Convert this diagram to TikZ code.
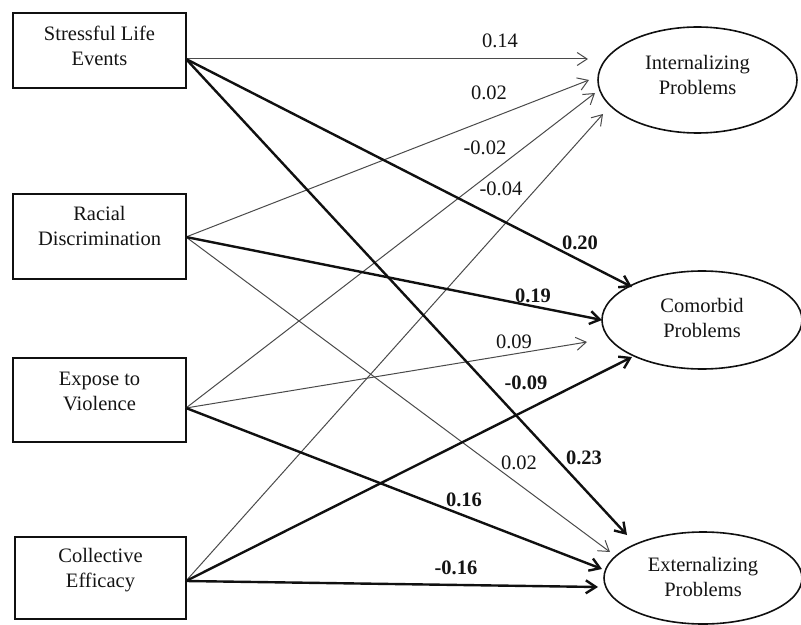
\documentclass[tikz,border=0pt]{standalone}
\usepackage{fontspec}
\setmainfont{Liberation Serif}
\usetikzlibrary{arrows.meta,shapes.geometric}
\definecolor{thinc}{HTML}{4A4A4A}
\definecolor{thickc}{HTML}{101010}
\definecolor{txt}{HTML}{141414}
\begin{document}
\begin{tikzpicture}[x=1bp,y=-1bp,
  box/.style={draw=thickc,line width=1.7bp,rectangle,inner sep=0pt},
  oval/.style={draw=thickc,line width=1.6bp,ellipse,inner sep=0pt},
  lbl/.style={text=txt,align=center,font=\fontsize{20.5bp}{25bp}\selectfont,inner sep=0pt},
  coef/.style={text=txt,font=\fontsize{20.5bp}{25bp}\selectfont,inner sep=0pt},
  bcoef/.style={coef,font=\fontsize{20.5bp}{25bp}\selectfont\bfseries},
  thinarr/.style={draw=thinc,line width=1bp,-{Straight Barb[length=10bp,width=13bp,line width=1bp]}},
  thickarr/.style={draw=thickc,line width=2.4bp,-{Straight Barb[length=10bp,width=13bp,line width=2.4bp]}}
]
\useasboundingbox (0,0) rectangle (801,625);
% boxes
\node[box,minimum width=173bp,minimum height=75bp] (sle) at (99.5,50.5) {};
\node[box,minimum width=173bp,minimum height=85bp] (rd) at (99.5,236.5) {};
\node[box,minimum width=173bp,minimum height=84bp] (ev) at (99.5,400) {};
\node[box,minimum width=171bp,minimum height=82bp] (ce) at (100.5,578) {};
\node[lbl] (slet) at (99.5,46) {Stressful Life\\Events};
\node[lbl] (rdt) at (99.5,226) {Racial\\Discrimination};
\node[lbl] (evt) at (99.5,391) {Expose to\\Violence};
\node[lbl] (cet) at (100.5,570) {Collective\\Efficacy};
% ellipses
\node[oval,minimum width=199bp,minimum height=106bp] (int) at (697.5,80) {};
\node[oval,minimum width=200bp,minimum height=98bp] (com) at (702,320) {};
\node[oval,minimum width=198bp,minimum height=92bp] (ext) at (703,578) {};
\node[lbl] (intt) at (697.5,75) {Internalizing\\Problems};
\node[lbl] (comt) at (702,318) {Comorbid\\Problems};
\node[lbl] (extt) at (703,577) {Externalizing\\Problems};
% start points
\coordinate (sleo) at (186,59);
\coordinate (rdo) at (186,237);
\coordinate (evo) at (186,408);
\coordinate (ceo) at (186,581);
% end points
\coordinate (i1) at (588,59);
\coordinate (i2) at (589,80);
\coordinate (i3) at (595,93);
\coordinate (i4) at (603,114);
\coordinate (c1) at (632,287);
\coordinate (c2) at (602,320);
\coordinate (c3) at (587,342);
\coordinate (c4) at (632,357);
\coordinate (e1) at (627,535);
\coordinate (e2) at (610,552);
\coordinate (e3) at (602,569);
\coordinate (e4) at (598,587);
% thin arrows
\draw[thinarr] (sleo) -- (i1);
\draw[thinarr] (rdo) -- (i2);
\draw[thinarr] (evo) -- (i3);
\draw[thinarr] (ceo) -- (i4);
\draw[thinarr] (evo) -- (c3);
\draw[thinarr] (rdo) -- (e2);
% thick arrows
\draw[thickarr] (sleo) -- (c1);
\draw[thickarr] (rdo) -- (c2);
\draw[thickarr] (ceo) -- (c4);
\draw[thickarr] (sleo) -- (e1);
\draw[thickarr] (evo) -- (e3);
\draw[thickarr] (ceo) -- (e4);
% coefficients
\node[coef] (l1) at (500,41) {0.14};
\node[coef] (l2) at (489,93) {0.02};
\node[coef] (l3) at (485,148) {-0.02};
\node[coef] (l4) at (501,189) {-0.04};
\node[bcoef] (l5) at (580,243) {0.20};
\node[bcoef] (l6) at (533,296) {0.19};
\node[coef] (l7) at (514,342) {0.09};
\node[bcoef] (l8) at (526,383) {-0.09};
\node[bcoef] (l9) at (584,458) {0.23};
\node[coef] (l10) at (519,463) {0.02};
\node[bcoef] (l11) at (464,500) {0.16};
\node[bcoef] (l12) at (456,568) {-0.16};
\end{tikzpicture}
\end{document}
